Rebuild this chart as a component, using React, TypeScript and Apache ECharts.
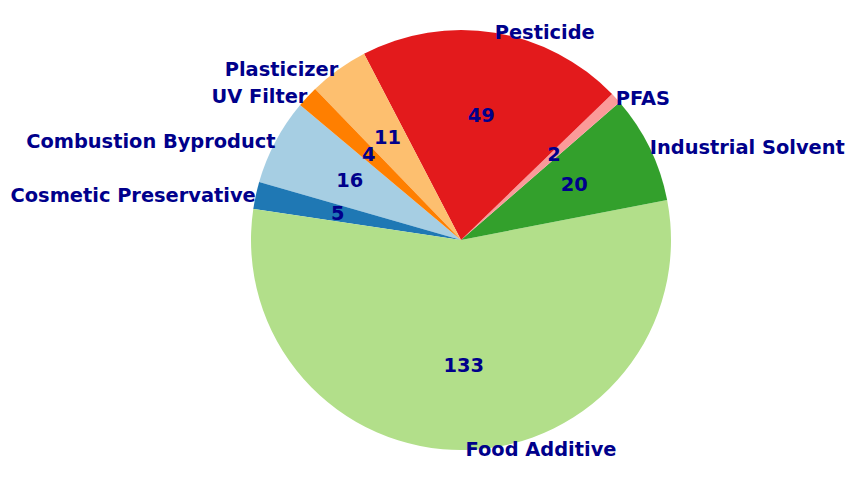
import React, { useEffect, useRef } from "react";
import * as echarts from "echarts";

const categories = [
  "Combustion Byproduct",
  "Cosmetic Preservative",
  "Food Additive",
  "Industrial Solvent",
  "PFAS",
  "Pesticide",
  "Plasticizer",
  "UV Filter",
];
const values = [16, 5, 133, 20, 2, 49, 11, 4];
const colors = ["#a6cee3", "#1f78b4", "#b2df8a", "#33a02c", "#fb9a99", "#e31a1c", "#fdbf6f", "#ff7f00"];

export default function App() {
  const ref = useRef<HTMLDivElement>(null);
  useEffect(() => {
    if (!ref.current) return;
    const chart = echarts.init(ref.current, null, { renderer: "svg" });
    const data = categories.map((name, i) => ({
      name,
      value: values[i],
      itemStyle: { color: colors[i] },
    }));
    const font = {
      fontFamily: "DejaVu Sans",
      fontWeight: "bold" as const,
      fontSize: 19.4,
      color: "#00008b",
    };
    chart.setOption({
      animation: false,
      series: [
        {
          type: "pie",
          center: [461, 240],
          radius: [0, 210],
          startAngle: 140,
          clockwise: false,
          avoidLabelOverlap: false,
          minAngle: 0,
          silent: true,
          data,
          label: {
            show: true,
            position: "outside",
            formatter: "{b}",
            distanceToLabelLine: 0,
            ...font,
          },
          labelLine: { show: false, length: 0, length2: 0 },
        },
        {
          type: "pie",
          center: [461, 240],
          radius: [46, 200],
          startAngle: 140,
          clockwise: false,
          avoidLabelOverlap: false,
          silent: true,
          data: categories.map((name, i) => ({
            name,
            value: values[i],
            itemStyle: { color: "rgba(0,0,0,0)" },
          })),
          label: {
            show: true,
            position: "inside",
            formatter: "{c}",
            ...font,
          },
          labelLine: { show: false },
          labelLayout: { hideOverlap: false },
        },
      ],
    });
    return () => chart.dispose();
  }, []);
  return (
    <div
      ref={ref}
      style={{ position: "absolute", left: 0, top: 0, width: 854, height: 482 }}
    />
  );
}
